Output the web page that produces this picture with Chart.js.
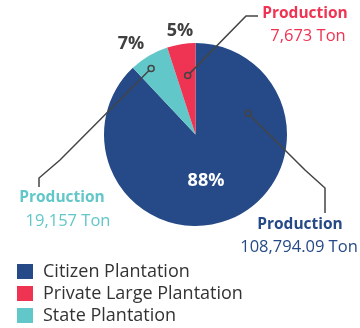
<!DOCTYPE html>
<html>
<head>
<meta charset="utf-8">
<script src="https://cdn.jsdelivr.net/npm/chart.js@4"></script>
<style>
  html, body { margin: 0; padding: 0; background: #fff; }
  #wrap { width: 360px; height: 328px; position: relative; }
</style>
</head>
<body>
<div id="wrap"><canvas id="pie"></canvas></div>
<script>
// legend order
const categories = ['Citizen Plantation', 'Private Large Plantation', 'State Plantation'];
const shares = [88, 5, 7];            // percent, as printed on the slices
const production = ['108,794.09', '7,673', '19,157'];   // Ton
const colors = ['#254a87', '#ee3452', '#62c7c8'];
// slices run clockwise from 12 o'clock in this order
const drawOrder = [0, 2, 1];

const fontFamily = '"Open Sans", "Noto Sans", sans-serif';
const lineColor = '#444';

// where each callout sits (index = category)
const callouts = [
  { angFrac: 0.215, radFrac: 0.62, path: [[305, 170], [325, 188], [325, 213]], title: [300, 225], value: [299, 247] },
  { angFrac: 0.58,  radFrac: 0.65, path: [[246, 16], [258, 16]], title: [305, 14], value: [308, 36] },
  { angFrac: 0.37,  radFrac: 0.87, path: [[60, 160], [39, 178], [39, 187]], title: [62, 198], value: [68, 221] }
];
const pctLabels = [
  { pos: [206, 181], color: '#fff' },
  { pos: [180, 31], color: '#404040' },
  { pos: [131, 44], color: '#404040' }
];

const calloutPlugin = {
  id: 'callouts',
  afterDraw(chart) {
    const ctx = chart.ctx;
    const meta = chart.getDatasetMeta(0);
    ctx.save();
    meta.data.forEach((arc, i) => {
      const cat = drawOrder[i];
      const c = callouts[cat];
      const p = arc.getProps(['x', 'y', 'startAngle', 'endAngle', 'outerRadius'], true);
      const a = p.startAngle + (p.endAngle - p.startAngle) * c.angFrac;
      const r = p.outerRadius * c.radFrac;
      const mx = p.x + Math.cos(a) * r;
      const my = p.y + Math.sin(a) * r;
      // leader line
      ctx.strokeStyle = lineColor;
      ctx.lineWidth = 1.5;
      ctx.beginPath();
      const dx = c.path[0][0] - mx, dy = c.path[0][1] - my;
      const len = Math.hypot(dx, dy);
      ctx.moveTo(mx + dx / len * 3, my + dy / len * 3);
      c.path.forEach(pt => ctx.lineTo(pt[0], pt[1]));
      ctx.stroke();
      ctx.beginPath();
      ctx.arc(mx, my, 3, 0, Math.PI * 2);
      ctx.stroke();
      // texts
      ctx.fillStyle = colors[cat];
      ctx.textBaseline = 'middle';
      ctx.textAlign = 'center';
      ctx.font = 'bold 15.5px ' + fontFamily;
      ctx.fillText('Production', c.title[0], c.title[1]);
      ctx.font = '16.5px ' + fontFamily;
      ctx.fillText(production[cat] + ' Ton', c.value[0], c.value[1]);
      // percentage
      const pl = pctLabels[cat];
      ctx.fillStyle = pl.color;
      ctx.font = 'bold 18px ' + fontFamily;
      ctx.fillText(shares[cat] + '%', pl.pos[0], pl.pos[1]);
    });
    // legend
    ctx.textAlign = 'left';
    ctx.textBaseline = 'middle';
    ctx.font = '18px ' + fontFamily;
    categories.forEach((name, k) => {
      const y = 264 + k * 22;
      ctx.fillStyle = colors[k];
      ctx.fillRect(17, y, 16, 15);
      ctx.fillStyle = '#333';
      ctx.fillText(name, 43, y + 8);
    });
    ctx.restore();
  }
};

new Chart(document.getElementById('pie'), {
  type: 'pie',
  data: {
    labels: drawOrder.map(i => categories[i]),
    datasets: [{
      data: drawOrder.map(i => shares[i]),
      backgroundColor: drawOrder.map(i => colors[i]),
      borderWidth: 0
    }]
  },
  options: {
    responsive: true,
    maintainAspectRatio: false,
    animation: false,
    layout: { padding: { left: 31, top: 43, right: 0, bottom: 102 } },
    plugins: {
      legend: { display: false },
      tooltip: { enabled: false }
    }
  },
  plugins: [calloutPlugin]
});
</script>
</body>
</html>
